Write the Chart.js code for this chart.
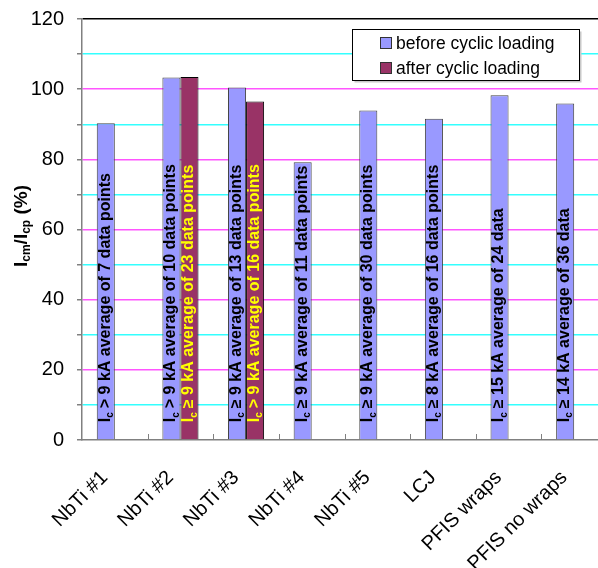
<!DOCTYPE html>
<html>
<head>
<meta charset="utf-8">
<script src="https://cdn.jsdelivr.net/npm/chart.js@4/dist/chart.umd.min.js"></script>
<style>
html,body{margin:0;padding:0;background:#fff;overflow:hidden;}
#wrap{width:610px;height:568px;}
</style>
</head>
<body>
<div id="wrap"><canvas id="c" width="610" height="568"></canvas></div>
<script>
const categories = ['NbTi #1','NbTi #2','NbTi #3','NbTi #4','NbTi #5','LCJ','PFIS wraps','PFIS no wraps'];
const beforeValues = [90.3, 103.3, 100.5, 79.2, 93.9, 91.6, 98.3, 95.9];
const afterValues = [null, 103.5, 96.5, null, null, null, null, null];
const beforeNotes = [
  '> 9 kA average of 7 data points',
  '> 9 kA average of 10 data points',
  '\u2265 9 kA average of 13 data points',
  '\u2265 9 kA average of 11 data points',
  '\u2265 9 kA average of 30 data points',
  '\u2265 8 kA average of 16 data points',
  '\u2265 15 kA average of 24 data',
  '\u2265 14 kA average of 36 data'
];
const afterNotes = [null, '\u2265 9 kA average of 23 data points', '> 9 kA average of 16 data points', null, null, null, null, null];
const seriesLabels = ['before cyclic loading', 'after cyclic loading'];
const yTicks = [0, 20, 40, 60, 80, 100, 120];

const FONT = '"Liberation Sans", Arial, sans-serif';

const barTextPlugin = {
  id: 'barText',
  afterDatasetsDraw(chart) {
    const ctx = chart.ctx;
    const notes = [beforeNotes, afterNotes];
    const colors = ['#000000', '#FFFF00'];
    chart.data.datasets.forEach((ds, di) => {
      const meta = chart.getDatasetMeta(di);
      meta.data.forEach((bar, i) => {
        const note = notes[di][i];
        if (!note || ds.data[i] == null) return;
        ctx.save();
        ctx.translate(bar.x + 0.5, bar.base - 17);
        ctx.rotate(-Math.PI / 2);
        ctx.fillStyle = colors[di];
        ctx.textBaseline = 'middle';
        ctx.textAlign = 'left';
        ctx.font = 'bold 16px ' + FONT;
        ctx.fillText('I', 0, -1);
        let x = ctx.measureText('I').width;
        ctx.font = 'bold 10px ' + FONT;
        ctx.fillText('c', x, 4);
        x += ctx.measureText('c').width + 4;
        ctx.font = 'bold 16px ' + FONT;
        ctx.fillText(note, x, -1);
        ctx.restore();
      });
    });
  }
};

const decorPlugin = {
  id: 'decor',
  afterDraw(chart) {
    const ctx = chart.ctx;
    const a = chart.chartArea;
    // inside ticks on category axis
    ctx.save();
    ctx.strokeStyle = '#808080';
    ctx.lineWidth = 1;
    const n = categories.length;
    const w = (a.right - a.left) / n;
    for (let i = 1; i <= n; i++) {
      const x = Math.round(a.left + i * w) + 0.5;
      ctx.beginPath();
      ctx.moveTo(x, a.bottom);
      ctx.lineTo(x, a.bottom - 6);
      ctx.stroke();
    }
    ctx.restore();

    // y axis title with subscripts
    ctx.save();
    ctx.translate(22, 226);
    ctx.rotate(-Math.PI / 2);
    ctx.fillStyle = '#000';
    ctx.textBaseline = 'middle';
    ctx.textAlign = 'left';
    const parts = [['I', 19, 0], ['cm', 12, 5], ['/I', 19, 0], ['cp', 12, 5], [' (%)', 19, 0]];
    let total = 0;
    parts.forEach(p => { ctx.font = 'bold ' + p[1] + 'px ' + FONT; total += ctx.measureText(p[0]).width; });
    let x = -total / 2;
    parts.forEach(p => {
      ctx.font = 'bold ' + p[1] + 'px ' + FONT;
      ctx.fillText(p[0], x, p[2]);
      x += ctx.measureText(p[0]).width;
    });
    ctx.restore();

    // legend box
    ctx.save();
    const bx = 352.5, by = 29.5, bw = 227, bh = 51;
    ctx.fillStyle = '#c8c8c8';
    ctx.fillRect(bx + 2, by + 2, bw, bh);
    ctx.fillStyle = '#ffffff';
    ctx.fillRect(bx, by, bw, bh);
    ctx.strokeStyle = '#000';
    ctx.lineWidth = 1;
    ctx.strokeRect(bx, by, bw, bh);
    chart.data.datasets.forEach((ds, di) => {
      const cy = 43 + di * 25;
      ctx.fillStyle = ds.backgroundColor;
      ctx.fillRect(380.5, cy - 5.5, 11, 11);
      ctx.strokeStyle = '#333';
      ctx.strokeRect(380.5, cy - 5.5, 11, 11);
      ctx.fillStyle = '#000';
      ctx.font = '17.5px ' + FONT;
      ctx.textBaseline = 'middle';
      ctx.textAlign = 'left';
      ctx.fillText(ds.label, 396, cy + 1);
    });
    ctx.restore();
  }
};

new Chart(document.getElementById('c'), {
  type: 'bar',
  data: {
    labels: categories,
    datasets: [
      { label: seriesLabels[0], data: beforeValues, backgroundColor: '#9999FF', borderColor: '#444444', borderWidth: 1 },
      { label: seriesLabels[1], data: afterValues, backgroundColor: '#993366', borderColor: '#000000', borderWidth: 1 }
    ]
  },
  options: {
    responsive: false,
    animation: false,
    devicePixelRatio: 1,
    layout: { padding: { top: 19, right: 3, left: 0, bottom: 0 } },
    datasets: { bar: { categoryPercentage: 0.55, barPercentage: 1.0 } },
    plugins: { legend: { display: false }, tooltip: { enabled: false }, title: { display: false } },
    scales: {
      x: {
        grid: { display: false, drawTicks: false },
        border: { display: true, color: '#808080', width: 1.5 },
        ticks: {
          font: { family: FONT, size: 20 },
          color: '#000',
          minRotation: 45,
          maxRotation: 45,
          padding: 26,
          labelOffset: -10,
          autoSkip: false
        },
        afterFit(scale) { scale.height = 128; scale.paddingLeft = 0; scale.paddingRight = 0; }
      },
      y: {
        min: 0,
        max: 120,
        afterBuildTicks(scale) {
          const t = [];
          for (let v = 0; v <= 120; v += 10) t.push({ value: v });
          scale.ticks = t;
        },
        grid: {
          color(ctx) {
            const v = ctx.tick.value;
            if (v === 0) return 'rgba(0,0,0,0)';
            if (v === 120) return '#000000';
            return (v % 20 === 0) ? '#FF55FF' : '#33FFFF';
          },
          lineWidth: 1.5,
          tickColor: '#808080',
          tickLength: 5
        },
        border: { display: true, color: '#808080', width: 1.5 },
        ticks: {
          font: { family: FONT, size: 20 },
          color: '#000',
          padding: 13,
          callback(v) { return yTicks.includes(v) ? String(v) : ''; }
        },
        afterFit(scale) { scale.width = 82; scale.paddingTop = 0; scale.paddingBottom = 0; }
      }
    }
  },
  plugins: [barTextPlugin, decorPlugin]
});
</script>
</body>
</html>
